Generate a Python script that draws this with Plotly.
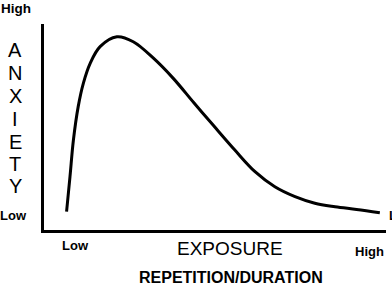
import plotly.graph_objects as go

# Curve (exposure 0-100, anxiety 0-100)
exposure = [6.6, 7.6, 8.6, 10.0, 11.5, 13.5, 16.4, 21.3, 26.1, 32.0, 37.8, 43.7,
            49.5, 55.8, 61.7, 67.5, 73.4, 79.2, 85.1, 91.4, 98.2]
anxiety = [8.9, 25.9, 43.7, 59.9, 71.2, 80.9, 89.0, 93.8, 91.4, 83.4, 73.6, 62.0,
           50.8, 38.8, 28.3, 21.0, 16.2, 13.0, 11.3, 10.0, 8.4]

y_letters = list("ANXIETY")
y_low, y_high = "Low", "High"
x_low, x_high = "Low", "High"
x_title = "EXPOSURE"
x_subtitle = "REPETITION/DURATION"

W, H = 392, 285
L, R, T, B = 44, 6, 24, 55
PW, PH = W - L - R, H - T - B

def px(x):
    return (x - L) / PW

def py(y):
    return (H - B - y) / PH

FONT = "Liberation Sans, Arial, sans-serif"

fig = go.Figure()
fig.add_trace(go.Scatter(x=exposure, y=anxiety, mode="lines",
                         line=dict(color="black", width=3, shape="spline", smoothing=1.0),
                         hoverinfo="skip", showlegend=False))

ann = []
def add(text, x, y, size, bold=False, xanchor="center"):
    ann.append(dict(text=f"<b>{text}</b>" if bold else text, x=px(x), y=py(y),
                    xref="paper", yref="paper", xanchor=xanchor, yanchor="middle",
                    showarrow=False, font=dict(family=FONT, size=size, color="black")))

add(y_high, 16, 8, 13.5, bold=True)
add(y_low, 13, 215, 13, bold=True)
letter_y = [50, 73, 96, 119, 142, 164, 186]
for ch, yy in zip(y_letters, letter_y):
    add(ch, 15, yy, 20)
add(x_low, 75, 245, 13, bold=True)
add(x_high, 369, 251, 13, bold=True)
add(x_title, 230, 248, 19)
add(x_subtitle, 231, 277, 16, bold=True)
add(y_low, 387, 215, 13, bold=True, xanchor="left")

fig.update_layout(
    width=W, height=H,
    margin=dict(l=L, r=R, t=T, b=B, pad=0),
    paper_bgcolor="white", plot_bgcolor="white",
    annotations=ann,
    xaxis=dict(range=[0, 100], showline=True, linecolor="black", linewidth=3,
               showgrid=False, zeroline=False, showticklabels=False, ticks=""),
    yaxis=dict(range=[0, 100], showline=True, linecolor="black", linewidth=3,
               showgrid=False, zeroline=False, showticklabels=False, ticks=""),
)

fig.write_html("out.html")
